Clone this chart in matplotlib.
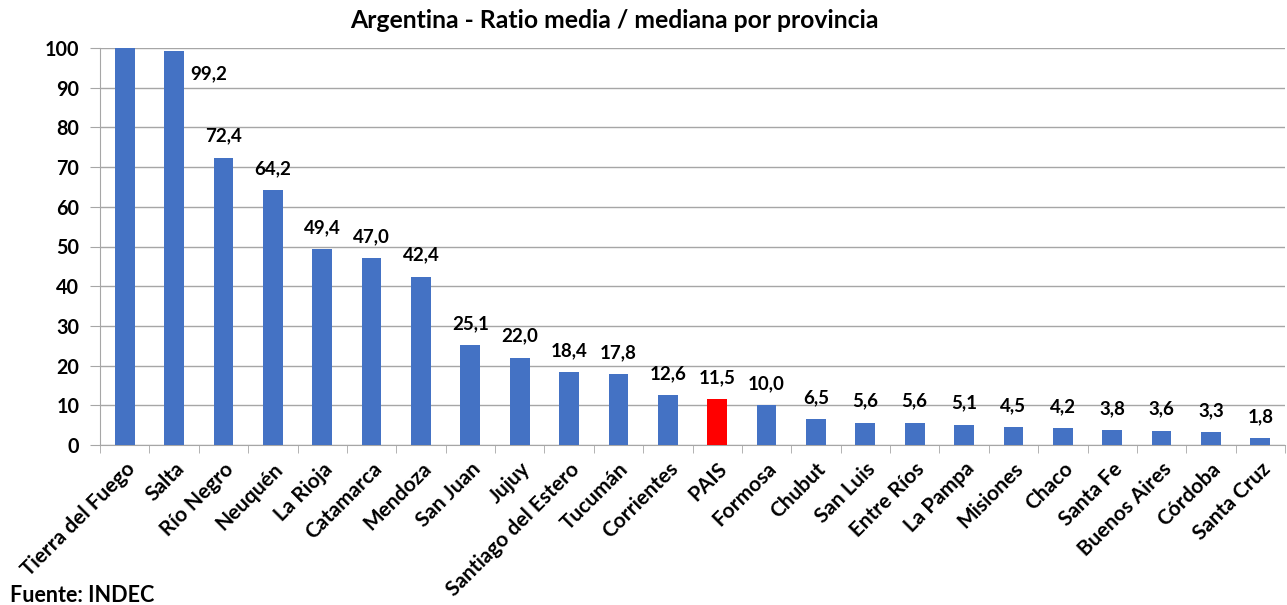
import matplotlib
matplotlib.use("Agg")
import matplotlib.pyplot as plt

provincias = ["Tierra del Fuego", "Salta", "Río Negro", "Neuquén", "La Rioja", "Catamarca",
              "Mendoza", "San Juan", "Jujuy", "Santiago del Estero", "Tucumán", "Corrientes",
              "PAIS", "Formosa", "Chubut", "San Luis", "Entre Ríos", "La Pampa", "Misiones",
              "Chaco", "Santa Fe", "Buenos Aires", "Córdoba", "Santa Cruz"]
ratios = [105.0, 99.2, 72.4, 64.2, 49.4, 47.0, 42.4, 25.1, 22.0, 18.4, 17.8, 12.6,
          11.5, 10.0, 6.5, 5.6, 5.6, 5.1, 4.5, 4.2, 3.8, 3.6, 3.3, 1.8]
y_ticks = [0, 10, 20, 30, 40, 50, 60, 70, 80, 90, 100]
title = "Argentina - Ratio media / mediana por provincia"
source = "Fuente: INDEC"

FONT = ["Lato", "DejaVu Sans"]
plt.rcParams["font.family"] = FONT

W, H = 1287, 605
fig = plt.figure(figsize=(W / 100, H / 100), dpi=100)
ax = fig.add_axes([100 / W, 1 - 445 / H, (1285 - 100) / W, (445 - 48) / H])

colors = ["#FF0000" if p == "PAIS" else "#4472C4" for p in provincias]
x = list(range(len(provincias)))
ax.bar(x, ratios, width=0.4, color=colors, zorder=3)

ymax = 100
ax.set_ylim(0, ymax)
ax.set_xlim(-0.5, len(provincias) - 0.5)
ax.set_yticks(y_ticks)
ax.set_yticklabels([str(t) for t in y_ticks], fontsize=14.2, fontweight="bold")
ax.grid(axis="y", color="#a6a6a6", linewidth=1.0, zorder=0)
for s in ["top", "right"]:
    ax.spines[s].set_visible(False)
for s in ["left", "bottom"]:
    ax.spines[s].set_color("#a6a6a6")
ax.tick_params(axis="y", length=7, color="#a6a6a6", pad=8)
ax.set_xticks([i - 0.5 for i in range(len(provincias) + 1)], minor=True)
ax.set_xticks(x)
ax.tick_params(axis="x", which="minor", length=6, color="#a6a6a6")
ax.tick_params(axis="x", which="major", length=0, pad=10)
ax.set_xticklabels(provincias, rotation=45, ha="right", rotation_mode="anchor",
                   fontsize=15, fontweight="bold")

for i, v in enumerate(ratios):
    if v > ymax:
        continue
    lab = f"{v:.1f}".replace(".", ",")
    if v > 90:
        ax.annotate(lab, (i, 93.5), xytext=(25, 0), textcoords="offset points",
                    ha="center", va="center", fontsize=13.5, fontweight="bold")
    else:
        ax.annotate(lab, (i, v), xytext=(0, 15.5), textcoords="offset points",
                    ha="center", va="center", fontsize=13.5, fontweight="bold")

fig.text(614 / W, 1 - 20 / H, title, ha="center", va="center", fontsize=17.8, fontweight="bold")
fig.text(10 / W, 1 - 595 / H, source, ha="left", va="center", fontsize=15.5, fontweight="bold")

fig.savefig("out.png", dpi=100)
